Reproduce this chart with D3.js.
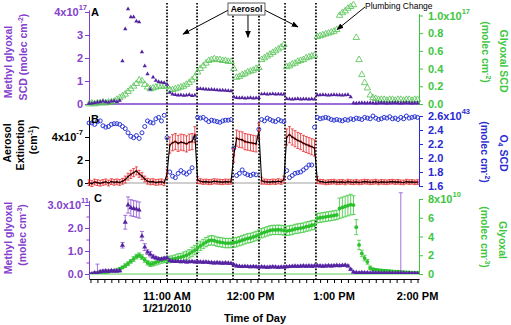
<!DOCTYPE html>
<html>
<head>
<meta charset="utf-8">
<script src="https://cdn.jsdelivr.net/npm/d3@7"></script>
<style>
  body { margin: 0; background: #fff; }
  text { font-family: "Liberation Sans", Arial, sans-serif; }
</style>
</head>
<body>
<div id="chart"></div>
<script>
// sample times, minutes after 10:00 on 1/21/2010
const times = [
  4, 6, 8, 10, 12, 14, 16, 18, 20, 22,
  24, 26, 28, 30, 32, 34, 36, 38, 40, 42,
  44, 46, 48, 50, 52, 54, 56, 58, 60, 62,
  64, 66, 68, 70, 72, 74, 76, 78, 80, 82,
  84, 86, 88, 90, 92, 94, 96, 98, 100, 102,
  104, 106, 108, 110, 112, 114, 116, 118, 120, 122,
  124, 126, 128, 130, 132, 134, 136, 138, 140, 142,
  144, 146, 148, 150, 152, 154, 156, 158, 160, 162,
  164, 166, 168, 170, 172, 174, 176, 178, 180, 182,
  184, 186, 188, 190, 192, 194, 196, 198, 200, 202,
  204, 206, 208, 210, 212, 214, 216, 218, 220, 222,
  224, 226, 228, 230, 232, 234, 236, 238, 240
];

// panel A: methyl glyoxal SCD (x1e17) and glyoxal SCD (x1e17)
const mgScd = [
  0.02, 0.03, 0.05, 0.08, 0.10, 0.12, 0.10, 0.08, 0.12, 0.13,
  0.10, 0.15, 1.87, 3.26, 4.13, 3.78, 3.78, 3.60, 3.56, 2.26,
  1.65, 1.30, 0.64, 1.16, 1.02, 0.97, 0.94, 0.92, 0.85, 0.50,
  0.42, 0.40, 0.38, 0.39, 0.37, 0.38, 0.40, 0.36, 0.38, 0.66,
  0.66, 0.65, 0.64, 0.63, 0.63, 0.62, 0.61, 0.60, 0.60, 0.59,
  0.58, 0.57, 0.30, 0.27, 0.26, 0.27, 0.25, 0.26, 0.27, 0.25,
  0.26, 0.27, 0.43, 0.44, 0.42, 0.43, 0.44, 0.42, 0.43, 0.42,
  0.42, 0.23, 0.22, 0.21, 0.22, 0.23, 0.21, 0.22, 0.22, 0.21,
  0.22, 0.21, 0.39, 0.39, 0.40, 0.39, 0.38, 0.39, 0.40, 0.39,
  0.39, 0.38, 0.39, 0.40, 0.30, 0.04, 0.03, 0.04, 0.05, 0.04,
  0.04, 0.05, 0.04, 0.03, 0.04, 0.05, 0.04, 0.03, 0.04, 0.04,
  0.05, 0.04, 0.03, 0.04, 0.05, 0.04, 0.03, 0.04, 0.04
];
const gxScd = [
  0.00, 0.01, 0.00, 0.01, 0.01, 0.02, 0.01, 0.02, 0.02, 0.03,
  0.05, 0.07, 0.09, 0.11, 0.14, 0.17, 0.20, 0.23, 0.27, 0.26,
  0.22, 0.19, 0.17, 0.18, 0.19, 0.20, 0.20, 0.20, 0.20, 0.16,
  0.16, 0.17, 0.18, 0.19, 0.20, 0.22, 0.24, 0.27, 0.30, 0.36,
  0.40, 0.43, 0.46, 0.49, 0.50, 0.51, 0.50, 0.50, 0.49, 0.49,
  0.48, 0.48, 0.40, 0.30, 0.31, 0.33, 0.34, 0.36, 0.37, 0.38,
  0.40, 0.41, 0.50, 0.52, 0.54, 0.56, 0.58, 0.60, 0.62, 0.64,
  0.67, 0.42, 0.43, 0.45, 0.46, 0.48, 0.49, 0.50, 0.52, 0.53,
  0.54, 0.55, 0.76, 0.77, 0.78, 0.79, 0.80, 0.81, 0.82, 0.84,
  1.00, 1.03, 1.05, 1.08, 1.10, 1.12, 0.75, 0.50, 0.33, 0.24,
  0.18, 0.10, 0.07, 0.06, 0.05, 0.05, 0.05, 0.04, 0.05, 0.05,
  0.04, 0.05, 0.05, 0.04, 0.05, 0.05, 0.04, 0.05, 0.05
];

// panel B: O4 SCD (x1e43) and aerosol extinction (x1e-7 cm-1)
const o4Scd = [
  2.50, 2.50, 2.48, 2.52, 2.53, 2.46, 2.44, 2.45, 2.48, 2.49,
  2.49, 2.48, 2.45, 2.42, 2.36, 2.31, 2.29, 2.32, 2.28, 2.36,
  2.45, 2.53, 2.51, 2.50, 2.56, 2.58, 2.53, 2.61, 2.29, 1.80,
  1.74, 1.72, 1.78, 1.82, 1.79, 1.77, 1.80, 1.86, 2.29, 2.58,
  2.57, 2.58, 2.55, 2.52, 2.54, 2.53, 2.52, 2.51, 2.53, 2.54,
  2.54, 2.55, 2.14, 1.75, 1.78, 1.83, 1.78, 1.76, 1.75, 1.77,
  1.76, 2.41, 2.55, 2.53, 2.57, 2.55, 2.53, 2.52, 2.55, 2.53,
  2.52, 1.82, 1.72, 1.75, 1.78, 1.79, 1.80, 1.83, 1.86, 1.90,
  1.90, 2.44, 2.58, 2.56, 2.57, 2.58, 2.57, 2.55, 2.54, 2.55,
  2.54, 2.53, 2.55, 2.54, 2.56, 2.55, 2.57, 2.56, 2.55, 2.58,
  2.57, 2.56, 2.60, 2.57, 2.55, 2.56, 2.58, 2.57, 2.59, 2.56,
  2.57, 2.55, 2.58, 2.56, 2.60, 2.57, 2.58, 2.59, 2.58
];
const extinction = [
  0.02, -0.05, 0.08, 0.03, -0.02, 0.05, 0.10, 0.00, 0.12, 0.06,
  0.10, 0.05, 0.15, 0.30, 0.55, 0.75, 0.90, 1.05, 0.80, 0.60,
  0.35, 0.15, 0.10, 0.12, 0.05, 0.08, 0.10, 0.02, 0.80, 3.30,
  3.50, 3.60, 3.45, 3.55, 3.50, 3.40, 3.55, 3.60, 4.20, 0.25,
  0.15, 0.10, 0.12, 0.08, 0.10, 0.15, 0.12, 0.10, 0.08, 0.12,
  0.10, 0.12, 2.40, 3.90, 3.80, 3.75, 3.60, 3.55, 3.50, 3.45,
  3.40, 4.50, 0.20, 0.12, 0.10, 0.08, 0.12, 0.10, 0.15, 0.10,
  0.30, 4.00, 4.20, 4.00, 3.85, 3.70, 3.60, 3.45, 3.35, 3.25,
  3.15, 3.05, 0.25, 0.12, 0.10, 0.05, 0.08, 0.10, 0.12, 0.06,
  0.08, 0.10, 0.05, 0.12, 0.08, 0.06, 0.10, 0.05, 0.08, 0.12,
  0.10, 0.06, 0.08, 0.12, 0.05, 0.10, 0.08, 0.06, 0.10, 0.12,
  0.08, 0.10, 0.06, 0.05, 0.12, 0.08, 0.10, 0.06, 0.08
];
const extinctionErr = [
  .25, .25, .25, .25, .25, .25, .25, .25, .25, .25,
  .25, .25, .25, .30, .30, .35, .35, .35, .30, .30,
  .25, .25, .25, .25, .25, .25, .25, .25, .40, .70,
  .70, .70, .70, .70, .70, .70, .70, .70, .70, .30,
  .22, .22, .22, .22, .22, .22, .22, .22, .22, .22,
  .22, .22, .60, .70, .70, .70, .70, .70, .70, .70,
  .70, .70, .30, .22, .22, .22, .22, .22, .22, .22,
  .30, .70, .70, .70, .70, .70, .70, .70, .70, .70,
  .70, .70, .30, .20, .20, .20, .20, .20, .20, .20,
  .20, .20, .20, .20, .20, .20, .20, .20, .20, .20,
  .20, .20, .20, .20, .20, .20, .20, .20, .20, .20,
  .20, .20, .20, .20, .20, .20, .20, .20, .20
];

// panel C: methyl glyoxal (x1e11 molec cm-3) and glyoxal (x1e10 molec cm-3)
const mgConc = [
  0.00, 0.00, 0.05, 0.03, 0.10, 0.12, 0.13, 0.12, 0.14, 0.13,
  0.13, 0.14, 1.25, 2.25, 3.00, 2.88, 2.85, 2.82, 2.78, 1.65,
  1.17, 0.95, 0.86, 0.75, 0.70, 0.66, 0.65, 0.68, 0.70, 0.58,
  0.55, 0.54, 0.55, 0.53, 0.54, 0.52, 0.53, 0.54, 0.52, 0.53,
  0.52, 0.51, 0.52, 0.50, 0.49, 0.48, 0.49, 0.48, 0.47, 0.48,
  0.47, 0.46, 0.40, 0.35, 0.33, 0.32, 0.33, 0.32, 0.31, 0.32,
  0.31, 0.30, 0.31, 0.30, 0.29, 0.30, 0.31, 0.30, 0.29, 0.30,
  0.30, 0.31, 0.32, 0.33, 0.34, 0.33, 0.34, 0.35, 0.34, 0.35,
  0.34, 0.35, 0.36, 0.35, 0.34, 0.35, 0.36, 0.35, 0.36, 0.37,
  0.36, 0.37, 0.38, 0.35, 0.20, 0.08, 0.06, 0.05, 0.06, 0.05,
  0.05, 0.04, 0.05, 0.04, 0.04, 0.03, 0.04, 0.03, 0.04, 0.03,
  0.03, 0.04, 0.03, 0.03, 0.02, 0.03, 0.02, 0.03, 0.02
];
const mgConcErr = [
  .05, .05, .05, .40, .05, .05, .05, .05, .05, .05,
  .05, .05, .12, .30, .35, .35, .35, .35, .35, .20,
  .15, .10, .12, .08, .06, .05, .05, .05, .05, .05,
  .04, .04, .04, .04, .04, .04, .04, .04, .04, .04,
  .04, .04, .04, .04, .04, .04, .04, .04, .04, .04,
  .04, .04, .04, .04, .04, .04, .04, .04, .04, .04,
  .04, .04, .04, .04, .04, .04, .04, .04, .04, .04,
  .04, .04, .04, .04, .04, .04, .04, .04, .04, .04,
  .04, .04, .04, .04, .04, .04, .04, .04, .04, .04,
  .04, .04, .04, .04, .04, .04, .04, .04, .04, .04,
  .04, .04, .04, .04, .04, .04, .04, .04, .04, .04,
  .04, .04, 3.5, .04, .04, .04, .04, .04, .04
];
const gxConc = [
  0.00, 0.02, 0.05, 0.15, 0.20, 0.22, 0.20, 0.25, 0.30, 0.35,
  0.40, 0.55, 0.70, 0.90, 1.10, 1.35, 1.60, 1.85, 2.00, 1.80,
  1.50, 1.20, 1.05, 1.10, 1.25, 1.35, 1.45, 1.50, 1.52, 1.55,
  1.60, 1.65, 1.75, 1.80, 1.90, 2.00, 2.15, 2.35, 2.55, 2.80,
  3.00, 3.20, 3.40, 3.55, 3.60, 3.55, 3.45, 3.40, 3.35, 3.30,
  3.30, 3.30, 3.35, 3.40, 3.50, 3.60, 3.70, 3.80, 3.85, 3.95,
  4.05, 4.20, 4.35, 4.45, 4.55, 4.65, 4.70, 4.70, 4.72, 4.70,
  4.65, 4.60, 4.65, 4.70, 4.80, 4.85, 4.90, 4.95, 5.05, 5.10,
  5.20, 5.25, 5.95, 6.00, 6.05, 6.10, 6.15, 6.20, 6.25, 6.30,
  7.00, 7.10, 7.20, 7.30, 7.40, 7.35, 5.00, 3.10, 2.20, 1.70,
  1.30, 0.65, 0.50, 0.45, 0.40, 0.38, 0.35, 0.33, 0.30, 0.28,
  0.26, 0.25, 0.22, 0.20, 0.18, 0.16, 0.15, 0.13, 0.12
];
const gxConcErr = [
  .10, .10, .10, .10, .10, .10, .10, .10, .10, .10,
  .15, .15, .15, .20, .20, .20, .25, .25, .25, .25,
  .25, .25, .25, .25, .30, .30, .30, .30, .30, .35,
  .35, .40, .40, .40, .45, .45, .45, .50, .50, .50,
  .50, .50, .50, .50, .50, .50, .50, .50, .50, .50,
  .50, .50, .50, .50, .50, .50, .50, .50, .50, .50,
  .50, .50, .50, .50, .50, .50, .50, .50, .50, .50,
  .50, .50, .50, .50, .50, .50, .50, .50, .50, .50,
  .50, .50, .50, .50, .50, .50, .50, .50, .50, .50,
  1.1, 1.1, 1.1, 1.1, 1.1, 1.0, .80, .50, .35, .30,
  .25, .20, .15, .12, .10, .10, .10, .10, .10, .10,
  .10, .10, .10, .10, .10, .10, .10, .10, .10
];

// aerosol on/off switch times (minutes after 10:00)
const aerosolEdges = [60, 81.6, 107.4, 126.1, 144.8, 167];

// axis ticks
const ticksAl = [0, 1, 2, 3, 4];
const ticksAr = [0, 0.2, 0.4, 0.6, 0.8, 1.0];
const ticksBl = [0, 2, 4];
const ticksBr = [1.6, 1.8, 2.0, 2.2, 2.4, 2.6];
const ticksCl = [0, 1, 2, 3];
const ticksCr = [0, 2, 4, 6, 8];
const hourTicks = [11, 12, 13, 14];
const hourLabels = ["11:00 AM", "12:00 PM", "1:00 PM", "2:00 PM"];

const W = 511, H = 325;
const xL = 89, xR = 419;
const purpleAxis = "#8440cc", purpleDot = "#5424a0";
const greenAxis = "#3ec63e", greenDot = "#2cc02c";
const blueAxis = "#2a2ad2", red = "#e5262a";

const base = new Date(2010, 0, 21, 10, 0, 0);
const toDate = m => new Date(base.getTime() + m * 60000);

const svg = d3.select("#chart").append("svg")
  .attr("width", W).attr("height", H);

const x = d3.scaleTime().domain([toDate(3.95), toDate(241.07)]).range([xL, xR]);

const yAl = d3.scaleLinear().domain([0, 4.1]).range([104, 9.7]);
const yAr = d3.scaleLinear().domain([0, 1.02]).range([104, 13.7]);
const yBl = d3.scaleLinear().domain([-0.2, 5.8]).range([185.3, 116.3]);
const yBr = d3.scaleLinear().domain([1.6, 2.6]).range([186, 116]);
const yCl = d3.scaleLinear().domain([-0.2, 3.2]).range([278.6, 200.4]);
const yCr = d3.scaleLinear().domain([0, 8]).range([274, 199]);

const rows = times.map((t, i) => ({
  t: toDate(t), mgScd: mgScd[i], gxScd: gxScd[i], o4: o4Scd[i],
  ext: extinction[i], extErr: extinctionErr[i],
  mg: mgConc[i], mgErr: mgConcErr[i], gx: gxConc[i], gxErr: gxConcErr[i]
}));

// ---- axes
function styleAxis(g, color, sup, supX) {
  g.select(".domain").attr("stroke", color).attr("stroke-width", 1);
  g.selectAll(".tick line").attr("stroke", color);
  g.selectAll(".tick text").attr("fill", color)
    .attr("font-size", 11).attr("font-weight", "bold")
    .attr("font-family", "Liberation Sans, Arial, sans-serif");
  if (sup) {
    const last = g.selectAll(".tick text").filter((d, i, n) => i === n.length - 1);
    last.append("tspan").attr("font-size", 7.5).attr("dy", "-0.75em").text(sup);
    if (supX !== undefined) last.attr("x", supX);
  }
}

const fmt1 = d3.format(".1f");
svg.append("g").attr("transform", `translate(${xL},0)`)
  .call(d3.axisLeft(yAl).tickValues(ticksAl).tickSize(4).tickPadding(2).tickSizeOuter(0)
    .tickFormat(d => d === 4 ? "4x10" : d))
  .call(g => styleAxis(g, purpleAxis, "17", -2));
svg.append("g").attr("transform", `translate(${xR},0)`)
  .call(d3.axisRight(yAr).tickValues(ticksAr).tickSize(4).tickPadding(5).tickSizeOuter(0)
    .tickFormat(d => d === 1 ? "1.0x10" : fmt1(d)))
  .call(g => styleAxis(g, greenAxis, "17"));
svg.append("g").attr("transform", `translate(${xL},0)`)
  .call(d3.axisLeft(yBl).tickValues(ticksBl).tickSize(4).tickPadding(2).tickSizeOuter(0)
    .tickFormat(d => d === 4 ? "4x10" : d))
  .call(g => styleAxis(g, "#000", "-7"));
svg.append("g").attr("transform", `translate(${xR},0)`)
  .call(d3.axisRight(yBr).tickValues(ticksBr).tickSize(4).tickPadding(5).tickSizeOuter(0)
    .tickFormat(d => d === 2.6 ? "2.6x10" : fmt1(d)))
  .call(g => styleAxis(g, blueAxis, "43"));
svg.append("g").attr("transform", `translate(${xL},0)`)
  .call(d3.axisLeft(yCl).tickValues(ticksCl).tickSize(4).tickPadding(2).tickSizeOuter(0)
    .tickFormat(d => d === 3 ? "3.0x10" : fmt1(d)))
  .call(g => styleAxis(g, purpleAxis, "11", 0));
svg.append("g").attr("transform", `translate(${xL},0)`)
  .call(d3.axisLeft(yCl).tickValues([0.5, 1.5, 2.5]).tickSize(2.5).tickFormat(""))
  .call(g => { g.select(".domain").remove(); g.selectAll("line").attr("stroke", purpleAxis); });
svg.append("g").attr("transform", `translate(${xR},0)`)
  .call(d3.axisRight(yCr).tickValues(ticksCr).tickSize(4).tickPadding(5).tickSizeOuter(0)
    .tickFormat(d => d === 8 ? "8x10" : d))
  .call(g => styleAxis(g, greenAxis, "10"));

// bottom time axis
const xAxisG = svg.append("g").attr("transform", "translate(0,279)")
  .call(d3.axisBottom(x).ticks(d3.timeMinute.every(5)).tickSize(4).tickSizeOuter(0).tickFormat(""));
xAxisG.select(".domain").attr("stroke", "#000");
xAxisG.selectAll(".tick line").attr("stroke", "#000");

hourTicks.forEach((h, i) => {
  svg.append("text").attr("x", x(toDate(h * 60 - 600))).attr("y", 300)
    .attr("text-anchor", "middle").attr("font-size", 11).attr("font-weight", "bold")
    .text(hourLabels[i]);
});
svg.append("text").attr("x", x(toDate(60))).attr("y", 312)
  .attr("text-anchor", "middle").attr("font-size", 11).attr("font-weight", "bold")
  .text("1/21/2010");
svg.append("text").attr("x", 255).attr("y", 322)
  .attr("text-anchor", "middle").attr("font-size", 11).attr("font-weight", "bold")
  .text("Time of Day");

// ---- reference lines
svg.append("line").attr("x1", xL).attr("x2", xR).attr("y1", yAl(0)).attr("y2", yAl(0))
  .attr("stroke", "#7a3cc8").attr("stroke-width", 1.6);
svg.append("line").attr("x1", xL).attr("x2", xR).attr("y1", yBl(0)).attr("y2", yBl(0))
  .attr("stroke", "#888").attr("stroke-width", 0.8);
svg.append("line").attr("x1", xL).attr("x2", xR).attr("y1", yCr(0)).attr("y2", yCr(0))
  .attr("stroke", "#5ccc5c").attr("stroke-width", 1);

// dotted aerosol boundaries
svg.selectAll(".edge").data(aerosolEdges).join("line").attr("class", "edge")
  .attr("x1", d => x(toDate(d))).attr("x2", d => x(toDate(d)))
  .attr("y1", 3).attr("y2", 279)
  .attr("stroke", "#000").attr("stroke-width", 1.7).attr("stroke-dasharray", "1.6,1.6");

svg.append("clipPath").attr("id", "clipC").append("rect")
  .attr("x", xL).attr("y", 192).attr("width", xR - xL).attr("height", 82);

function errBars(g, key, errKey, y, color, cap, sw) {
  g.selectAll(null).data(rows).join("path")
    .attr("d", d => {
      const xx = x(d.t), ya = y(d[key] - d[errKey]), yb = y(d[key] + d[errKey]);
      return `M${xx},${ya}V${yb}M${xx - cap},${ya}h${2 * cap}M${xx - cap},${yb}h${2 * cap}`;
    })
    .attr("stroke", color).attr("stroke-width", sw).attr("fill", "none");
}

// ---- panel A
const triSmall = d3.symbol(d3.symbolTriangle, 8)();
const triOpen = d3.symbol(d3.symbolTriangle, 18)();
svg.append("g").selectAll("path").data(rows).join("path")
  .attr("d", triOpen).attr("transform", d => `translate(${x(d.t)},${yAr(d.gxScd)})`)
  .attr("fill", "none").attr("stroke", "#4fc24f").attr("stroke-width", 0.8);
svg.append("g").selectAll("path").data(rows).join("path")
  .attr("d", triSmall).attr("transform", d => `translate(${x(d.t)},${yAl(d.mgScd)})`)
  .attr("fill", purpleDot);

// ---- panel B
svg.append("g").selectAll("circle").data(rows).join("circle")
  .attr("cx", d => x(d.t)).attr("cy", d => yBr(d.o4)).attr("r", 2)
  .attr("fill", "none").attr("stroke", "#2b36d4").attr("stroke-width", 1);
const gRed = svg.append("g");
errBars(gRed, "ext", "extErr", yBl, red, 1.5, 0.8);
gRed.selectAll("circle").data(rows).join("circle")
  .attr("cx", d => x(d.t)).attr("cy", d => yBl(d.ext)).attr("r", 1.3).attr("fill", red);
svg.append("path").datum(rows)
  .attr("d", d3.line().x(d => x(d.t)).y(d => yBl(d.ext)))
  .attr("fill", "none").attr("stroke", "#000").attr("stroke-width", 1.1);

// ---- panel C
const gC = svg.append("g").attr("clip-path", "url(#clipC)");
errBars(gC, "gx", "gxErr", yCr, "#39c839", 2, 0.8);
gC.selectAll("circle").data(rows).join("circle")
  .attr("cx", d => x(d.t)).attr("cy", d => yCr(d.gx)).attr("r", 1.9).attr("fill", greenDot);
errBars(gC, "mg", "mgErr", yCl, "#9a60d8", 2, 0.9);
const triC = d3.symbol(d3.symbolTriangle, 11)();
gC.append("g").selectAll("path").data(rows).join("path")
  .attr("d", triC).attr("transform", d => `translate(${x(d.t)},${yCl(d.mg)})`)
  .attr("fill", purpleDot);

// ---- panel letters
[["A", 91, 16], ["B", 91, 123], ["C", 94, 202]].forEach(([s, px, py]) => {
  svg.append("text").attr("x", px).attr("y", py).attr("font-size", 11)
    .attr("font-weight", "bold").text(s);
});

// ---- axis titles
function vlabel(cx, cy, angle, parts, color) {
  const t = svg.append("text")
    .attr("transform", `translate(${cx},${cy}) rotate(${angle})`)
    .attr("text-anchor", "middle").attr("dy", "0.35em")
    .attr("fill", color).attr("font-size", 10.5).attr("font-weight", "bold");
  let shift = 0;
  parts.forEach(([txt, s]) => {
    const sp = t.append("tspan").text(txt).attr("dy", (shift - s) + "px");
    if (s) sp.attr("font-size", 7);
    shift = s;
  });
}
vlabel(12, 62, -90, [["Methyl glyoxal", 0]], purpleAxis);
vlabel(27, 57, -90, [["SCD (molec cm", 0], ["-2", 4], [")", 0]], purpleAxis);
vlabel(500, 61, 90, [["Glyoxal SCD", 0]], greenAxis);
vlabel(482, 52, 90, [["(molec cm", 0], ["-2", 4], [")", 0]], greenAxis);
vlabel(11, 143, -90, [["Aerosol", 0]], "#000");
vlabel(24, 145, -90, [["Extinction", 0]], "#000");
vlabel(37, 140, -90, [["(cm", 0], ["-1", 4], [")", 0]], "#000");
vlabel(500, 153, 90, [["O", 0], ["4", -2], [" SCD", 0]], blueAxis);
vlabel(481, 152, 90, [["(molec cm", 0], ["-2", 4], [")", 0]], blueAxis);
vlabel(12, 238, -90, [["Methyl glyoxal", 0]], purpleAxis);
vlabel(26, 235, -90, [["(molec cm", 0], ["-3", 4], [")", 0]], purpleAxis);
vlabel(499, 240, 90, [["Glyoxal", 0]], greenAxis);
vlabel(481, 237, 90, [["(molec cm", 0], ["-3", 4], [")", 0]], greenAxis);

// ---- annotations
svg.append("defs").append("marker").attr("id", "arrow")
  .attr("viewBox", "0 0 10 10").attr("refX", 9).attr("refY", 5)
  .attr("markerWidth", 7).attr("markerHeight", 7).attr("orient", "auto")
  .append("path").attr("d", "M0,1L10,5L0,9Z").attr("fill", "#000");

const boxX = x(toDate(117.1)), boxY = yAl(4.13);
[[71.5, 3.04, -18, 1], [118.2, 2.9, 1.5, 6], [154.1, 3.35, 18, 1]].forEach(([t, v, dx, dy]) => {
  svg.append("line").attr("x1", boxX + dx).attr("y1", boxY + dy)
    .attr("x2", x(toDate(t))).attr("y2", yAl(v))
    .attr("stroke", "#000").attr("stroke-width", 1).attr("marker-end", "url(#arrow)");
});
svg.append("rect").attr("x", boxX - 18.5).attr("y", boxY - 6).attr("width", 37).attr("height", 12)
  .attr("fill", "#fff").attr("stroke", "#333").attr("stroke-width", 0.8);
svg.append("text").attr("x", boxX).attr("y", boxY + 3.2).attr("text-anchor", "middle")
  .attr("font-size", 8.5).attr("font-weight", "bold").text("Aerosol");

svg.append("line").attr("x1", 365).attr("y1", 7)
  .attr("x2", x(toDate(182.2))).attr("y2", yAr(0.84))
  .attr("stroke", "#000").attr("stroke-width", 1).attr("marker-end", "url(#arrow)");
svg.append("text").attr("x", 365).attr("y", 9).attr("font-size", 8.5).text("Plumbing Change");
</script>
</body>
</html>
